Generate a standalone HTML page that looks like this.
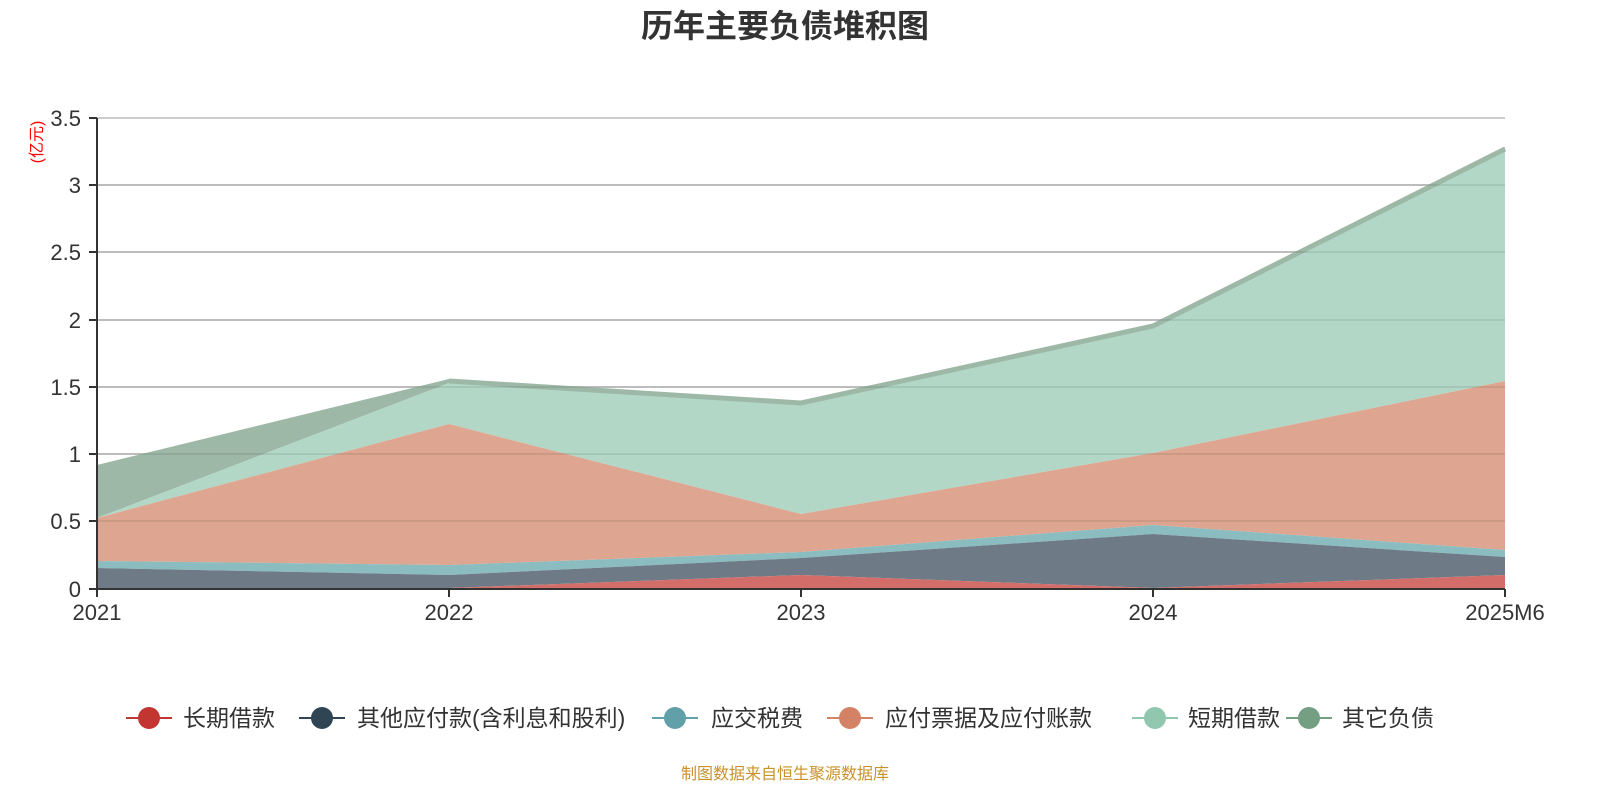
<!DOCTYPE html>
<html><head><meta charset="utf-8"><style>
body{margin:0;background:#fff;}
svg{display:block;font-family:"Liberation Sans","Noto Sans CJK SC",sans-serif;}
</style></head><body>
<svg width="1600" height="800" viewBox="0 0 1600 800">
<text x="785" y="37" text-anchor="middle" font-size="32" font-weight="bold" fill="#333">历年主要负债堆积图</text>
<g stroke="#ccc" stroke-width="2">
<line x1="97" x2="1505" y1="118" y2="118"/><line x1="97" x2="1505" y1="185" y2="185"/>
<line x1="97" x2="1505" y1="252" y2="252"/><line x1="97" x2="1505" y1="320" y2="320"/>
<line x1="97" x2="1505" y1="387" y2="387"/><line x1="97" x2="1505" y1="454" y2="454"/>
<line x1="97" x2="1505" y1="521" y2="521"/>
</g>
<polygon fill="#9db8a6" points="97,465 449,379 801,401 1153,324 1505,147 1505,150 1153,328 801,405 449,383 97,518"/>
<polygon fill="#b2d7c6" points="97,518 449,383 801,405 1153,328 1505,150 1505,381 1153,453 801,514 449,424 97,518"/>
<polyline fill="none" stroke="#9db8a6" stroke-width="5" points="449,381 801,403 1153,326 1505,149"/>
<polygon fill="#dea691" points="97,518 449,424 801,514 1153,453 1505,381 1505,550 1153,525 801,552 449,565 97,561"/>
<polygon fill="#8bbcc0" points="97,561 449,565 801,552 1153,525 1505,550 1505,557 1153,534 801,558 449,575 97,568"/>
<polygon fill="#6e7b87" points="97,568 449,575 801,558 1153,534 1505,557 1505,575 1153,588 801,575 449,588 97,588"/>
<polygon fill="#d36d69" points="97,588 449,588 801,575 1153,588 1505,575 1505,588"/>
<g stroke="rgba(0,0,0,0.08)" stroke-width="2">
<line x1="97" x2="1505" y1="185" y2="185"/><line x1="97" x2="1505" y1="252" y2="252"/>
<line x1="97" x2="1505" y1="320" y2="320"/><line x1="97" x2="1505" y1="387" y2="387"/>
<line x1="97" x2="1505" y1="454" y2="454"/><line x1="97" x2="1505" y1="521" y2="521"/>
</g>
<line x1="97" x2="97" y1="118" y2="589" stroke="#333" stroke-width="2"/>
<line x1="96" x2="1505" y1="589" y2="589" stroke="#333" stroke-width="2"/>
<g stroke="#333" stroke-width="2">
<line x1="89" x2="97" y1="118" y2="118"/><line x1="89" x2="97" y1="185" y2="185"/><line x1="89" x2="97" y1="252" y2="252"/><line x1="89" x2="97" y1="320" y2="320"/><line x1="89" x2="97" y1="387" y2="387"/><line x1="89" x2="97" y1="454" y2="454"/><line x1="89" x2="97" y1="521" y2="521"/><line x1="89" x2="97" y1="589" y2="589"/>
<line x1="97" x2="97" y1="589" y2="597"/><line x1="449" x2="449" y1="589" y2="597"/><line x1="801" x2="801" y1="589" y2="597"/><line x1="1153" x2="1153" y1="589" y2="597"/><line x1="1505" x2="1505" y1="589" y2="597"/>
</g>
<g font-size="22" fill="#333" text-anchor="end">
<text x="81" y="126">3.5</text><text x="81" y="193">3</text><text x="81" y="260">2.5</text><text x="81" y="328">2</text><text x="81" y="395">1.5</text><text x="81" y="462">1</text><text x="81" y="529">0.5</text><text x="81" y="597">0</text>
</g>
<g font-size="22" fill="#333" text-anchor="middle">
<text x="97" y="620">2021</text><text x="449" y="620">2022</text><text x="801" y="620">2023</text><text x="1153" y="620">2024</text><text x="1505" y="620">2025M6</text>
</g>
<text transform="translate(42,142) rotate(-90)" text-anchor="middle" font-size="16" fill="#f00">(亿元)</text>
<g font-size="23" fill="#333">
<line x1="126" x2="172" y1="718" y2="718" stroke="#c23531" stroke-width="2"/><circle cx="149" cy="718" r="11" fill="#c23531"/><text x="183" y="726">长期借款</text>
<line x1="299" x2="345" y1="718" y2="718" stroke="#2f4554" stroke-width="2"/><circle cx="322" cy="718" r="11" fill="#2f4554"/><text x="357" y="726">其他应付款(含利息和股利)</text>
<line x1="652" x2="698" y1="718" y2="718" stroke="#61a0a8" stroke-width="2"/><circle cx="675" cy="718" r="11" fill="#61a0a8"/><text x="711" y="726">应交税费</text>
<line x1="827" x2="873" y1="718" y2="718" stroke="#d48265" stroke-width="2"/><circle cx="850" cy="718" r="11" fill="#d48265"/><text x="885" y="726">应付票据及应付账款</text>
<line x1="1132" x2="1178" y1="718" y2="718" stroke="#91c7ae" stroke-width="2"/><circle cx="1155" cy="718" r="11" fill="#91c7ae"/><text x="1188" y="726">短期借款</text>
<line x1="1286" x2="1332" y1="718" y2="718" stroke="#749f83" stroke-width="2"/><circle cx="1309" cy="718" r="11" fill="#749f83"/><text x="1342" y="726">其它负债</text>
</g>
<text x="785" y="779" text-anchor="middle" font-size="16" fill="#c8922a">制图数据来自恒生聚源数据库</text>
</svg>
</body></html>
